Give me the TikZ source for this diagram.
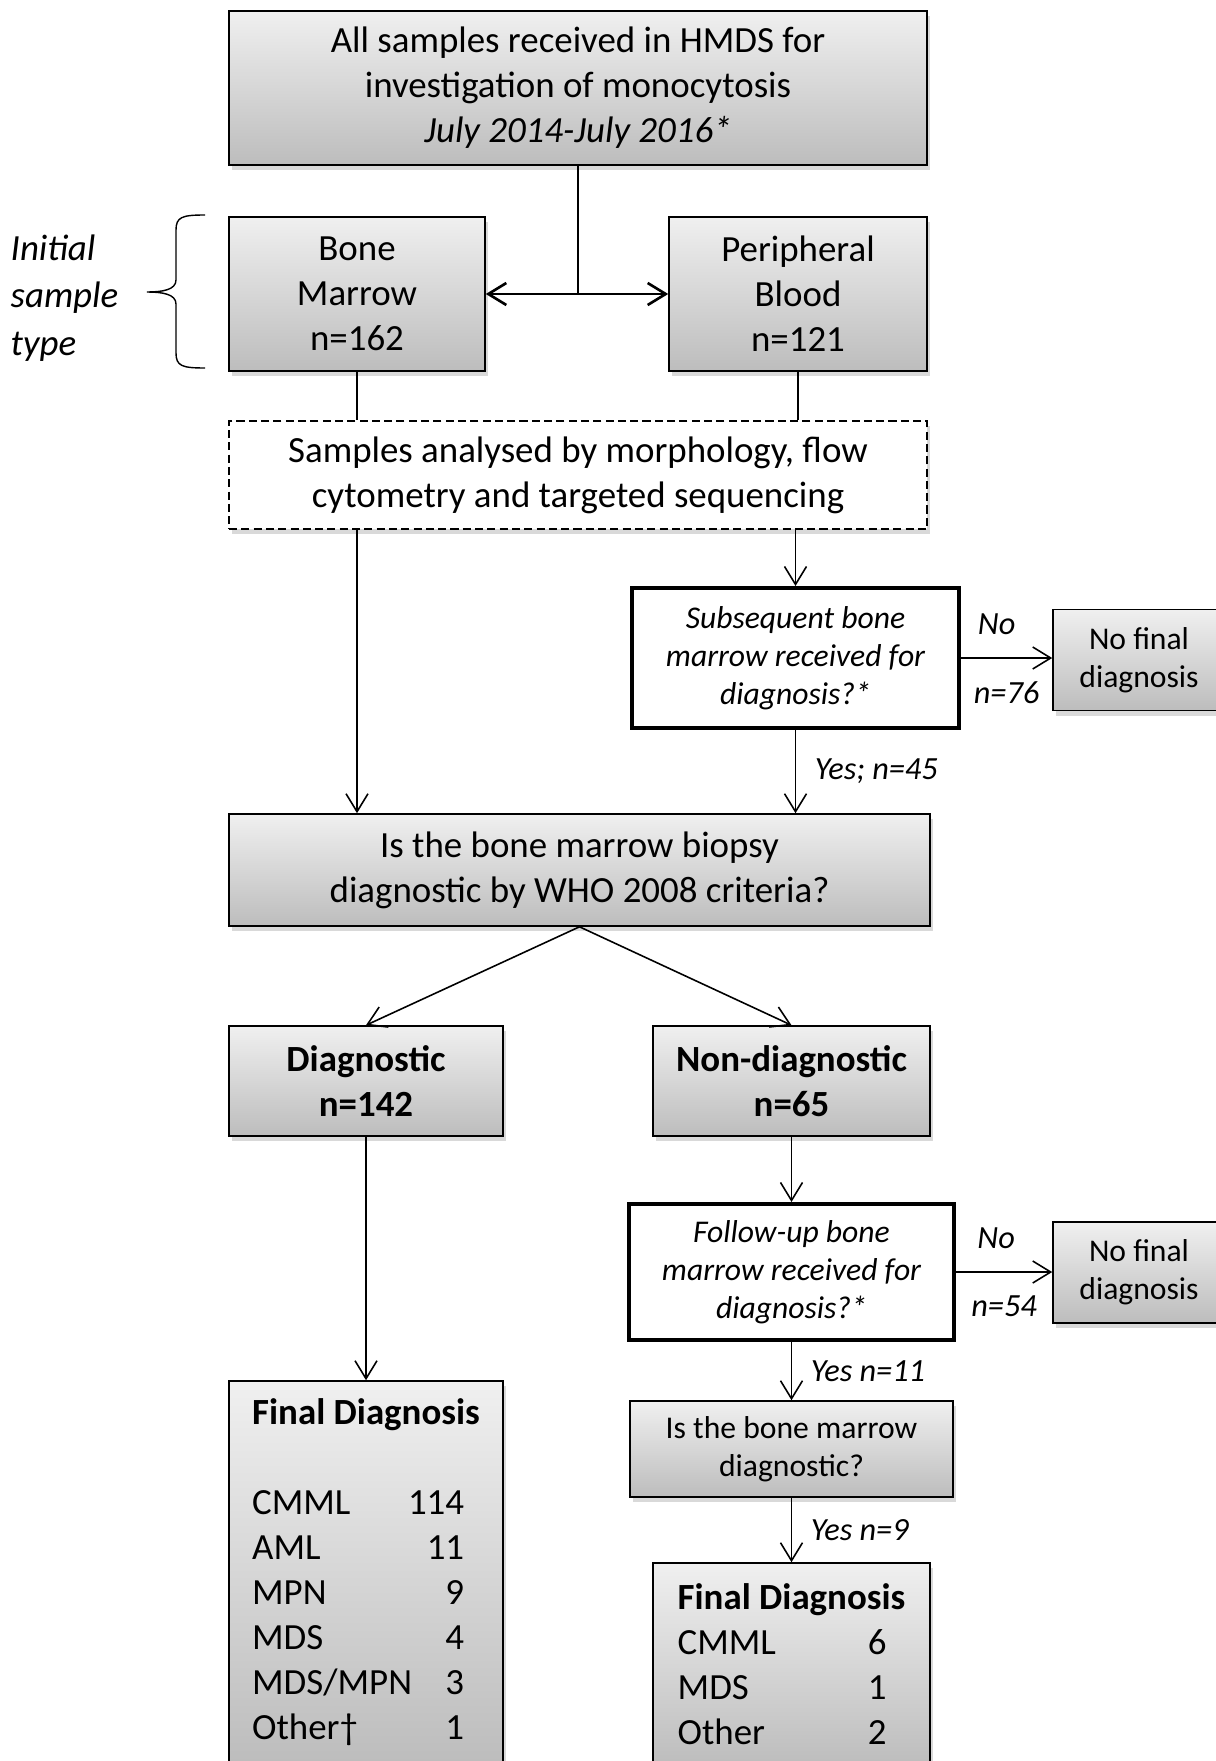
\documentclass[tikz,border=0pt]{standalone}
\usepackage{fontspec}
\setmainfont{Carlito}
\usetikzlibrary{arrows.meta, positioning, shadows, decorations.pathreplacing, calc}

\begin{document}
\begin{tikzpicture}[
    box/.style={rectangle, draw, line width=0.45pt, inner sep=0pt, align=center,
                top color=black!6, bottom color=black!26,
                drop shadow={shadow xshift=0.03cm, shadow yshift=-0.05cm, opacity=0.3},
                font=\fontsize{10.5}{12.8}\selectfont},
    small/.style={font=\fontsize{9}{10.8}\selectfont},
    dashbox/.style={rectangle, draw, line width=0.45pt, dash pattern=on 2.3pt off 1.2pt,
                fill=white, inner sep=0pt, align=center,
                drop shadow={shadow xshift=0.03cm, shadow yshift=-0.05cm, opacity=0.3},
                font=\fontsize{10.5}{12.8}\selectfont},
    ask/.style={rectangle, draw, line width=1.15pt, fill=white, inner sep=0pt, align=center,
                font=\itshape\fontsize{9}{10.8}\selectfont},
    arr/.style={-{Straight Barb[length=0.18cm, width=0.22cm]}, line width=0.45pt},
    lbl/.style={font=\itshape\fontsize{9.2}{11}\selectfont, inner sep=1pt}]

    \useasboundingbox (0,0) rectangle (12.16,-17.61);
    \clip (0,0) rectangle (12.16,-17.61);

    % Samples
    \node[box, minimum width=6.98cm, minimum height=1.54cm] (top) at (5.78,-0.88)
        {All samples received in HMDS for\\investigation of monocytosis\\\textit{July 2014-July 2016*}};
    \node[box, minimum width=2.56cm, minimum height=1.54cm] (bm) at (3.57,-2.94) {Bone\\Marrow\\n=162};
    \node[box, minimum width=2.58cm, minimum height=1.54cm] (pb) at (7.98,-2.94) {Peripheral\\Blood\\n=121};
    \node[anchor=west, align=left, inner sep=0pt, font=\itshape\fontsize{10.5}{13.6}\selectfont]
        (sampletype) at (0.1,-2.98) {Initial\\sample\\type};
    % brace
    \draw[line width=0.4pt] (2.05,-2.15) .. controls (1.82,-2.15) and (1.76,-2.17) .. (1.76,-2.3)
        -- (1.76,-2.8) .. controls (1.76,-2.9) and (1.62,-2.92) .. (1.47,-2.92)
        .. controls (1.62,-2.92) and (1.76,-2.94) .. (1.76,-3.04)
        -- (1.76,-3.53) .. controls (1.76,-3.66) and (1.82,-3.68) .. (2.05,-3.68);

    \node[dashbox, minimum width=6.98cm, minimum height=1.08cm] (analysed) at (5.78,-4.75)
        {Samples analysed by morphology, flow\\cytometry and targeted sequencing};

    % Questions
    \node[ask, minimum width=3.27cm, minimum height=1.40cm] (subseq) at (7.955,-6.58)
        {Subsequent bone\\marrow received for\\diagnosis?*};
    \node[box, small, minimum width=1.72cm, minimum height=1.01cm] (nofinal1) at (11.39,-6.6) {No final\\diagnosis};

    \node[box, minimum width=7.01cm, minimum height=1.12cm] (biopsy) at (5.795,-8.70)
        {Is the bone marrow biopsy\\diagnostic by WHO 2008 criteria?};
    \node[box, font=\bfseries\fontsize{10.5}{12.8}\selectfont, minimum width=2.74cm, minimum height=1.10cm]
        (diag) at (3.66,-10.81) {Diagnostic\\n=142};
    \node[box, font=\bfseries\fontsize{10.5}{12.8}\selectfont, minimum width=2.77cm, minimum height=1.10cm]
        (nondiag) at (7.915,-10.81) {Non-diagnostic\\n=65};

    \node[ask, minimum width=3.25cm, minimum height=1.36cm] (followup) at (7.915,-12.72)
        {Follow-up bone\\marrow received for\\diagnosis?*};
    \node[box, small, minimum width=1.72cm, minimum height=1.01cm] (nofinal2) at (11.39,-12.725) {No final\\diagnosis};
    \node[box, small, minimum width=3.23cm, minimum height=0.96cm] (bmdiag) at (7.915,-14.49)
        {Is the bone marrow\\diagnostic?};

    % Outcomes
    \node[box, align=left, minimum width=2.74cm, minimum height=3.83cm] (final1) at (3.66,-15.725)
        {\textbf{Final Diagnosis}\\[0.45cm]
         \makebox[2.12cm]{CMML\hfill 114}\\
         \makebox[2.12cm]{AML\hfill 11}\\
         \makebox[2.12cm]{MPN\hfill 9}\\
         \makebox[2.12cm]{MDS\hfill 4}\\
         \makebox[2.12cm]{MDS/MPN\hfill 3}\\
         \makebox[2.12cm]{Other\textdagger\hfill 1}};
    \node[box, align=left, minimum width=2.77cm, minimum height=2.03cm] (final2) at (7.915,-16.645)
        {\textbf{Final Diagnosis}\\
         \makebox[2.09cm]{CMML\hfill 6}\\
         \makebox[2.09cm]{MDS\hfill 1}\\
         \makebox[2.09cm]{Other\hfill 2}};

    % Arrows
    \draw[line width=0.75pt] (top) -- (top |- bm);
    \draw[line width=0.75pt, {Straight Barb[length=0.18cm, width=0.22cm]}-{Straight Barb[length=0.18cm, width=0.22cm]}]
        (bm) -- (pb);
    \draw[line width=0.45pt] (bm) -- (bm |- analysed.north);
    \draw[line width=0.45pt] (pb) -- (pb |- analysed.north);
    \draw[arr] (analysed.south -| bm) -- (biopsy.north -| bm);
    \draw[arr] (analysed.south -| subseq) -- (subseq);
    \draw[arr] (subseq.east) -- node[lbl, above=0.19cm, xshift=-0.1cm]{No} node[lbl, below=0.19cm]{n=76}
        (subseq.east -| nofinal1.west);
    \draw[arr] (subseq) -- node[lbl, right=0.15cm]{Yes; n=45} (biopsy.north -| subseq);
    \draw[arr] (biopsy.south) -- (diag.north);
    \draw[arr] (biopsy.south) -- (nondiag.north);
    \draw[arr] (diag) -- (final1);
    \draw[arr] (nondiag) -- (followup);
    \draw[arr] (followup.east) -- node[lbl, above=0.19cm, xshift=-0.08cm]{No} node[lbl, below=0.19cm]{n=54}
        (followup.east -| nofinal2.west);
    \draw[arr] (followup) -- node[lbl, right=0.15cm]{Yes n=11} (bmdiag);
    \draw[arr] (bmdiag) -- node[lbl, right=0.15cm]{Yes n=9} (final2);
\end{tikzpicture}
\end{document}
